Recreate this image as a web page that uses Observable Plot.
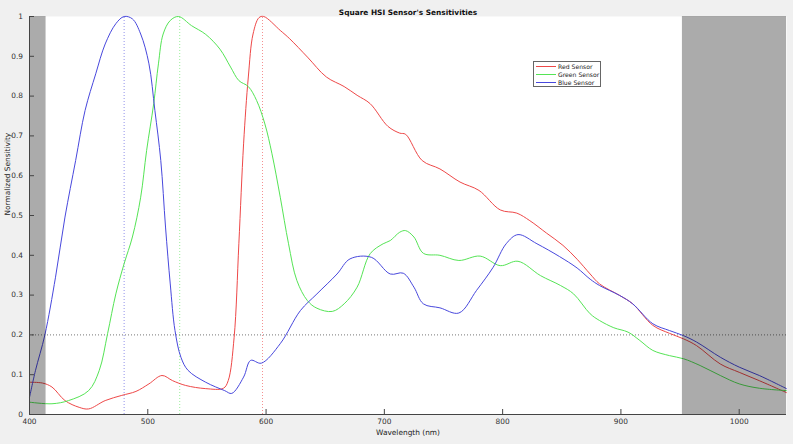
<!DOCTYPE html>
<html>
<head>
<meta charset="utf-8">
<script src="https://cdn.jsdelivr.net/npm/d3@7"></script>
<script src="https://cdn.jsdelivr.net/npm/@observablehq/plot@0.6"></script>
<style>
  html, body { margin: 0; padding: 0; background: #f0f0f0; }
  #wrap { position: relative; width: 793px; height: 444px; overflow: hidden; }
  .legend { position: absolute; left: 533px; top: 61px; width: 68px; height: 26px; background: #fff;
    border: 1px solid #666; font-family: "DejaVu Sans", sans-serif; font-size: 6.1px; color: #222; box-sizing: border-box; padding-top: 1px; }
  .legend .row { display: flex; align-items: center; height: 7.8px; white-space: nowrap; }
  .legend .sw { flex: 0 0 20px; width: 20px; height: 0; border-top: 1px solid; margin-left: 2px; margin-right: 2px; }
</style>
</head>
<body>
<div id="wrap"></div>
<script>
const titleText = "Square HSI Sensor's Sensitivities";
const xLabel = "Wavelength (nm)";
const yLabel = "Normalized Sensitivity";
const seriesNames = ["Red Sensor", "Green Sensor", "Blue Sensor"];
const seriesColors = ["#ee4848", "#55e455", "#4848dd"];

const xTicks = [400, 500, 600, 700, 800, 900, 1000];
const yTicks = [0, 0.1, 0.2, 0.3, 0.4, 0.5, 0.6, 0.7, 0.8, 0.9, 1];
const yTickLabels = ["0", "0.1", "0.2", "0.3", "0.4", "0.5", "0.6", "0.7", "0.8", "0.9", "1"];

const redWl = [400,411,419,430,442,450,464,478,490,501,512,521,532,549,564,568,573,577,581,585,589,594,598,612,620,635,651,666,677,688,703,713,718,732,747,764,780,798,812,823,837,851,863,874,882,899,910,927,941,953,964,984,1000,1017,1040];
const redVal = [0.081,0.079,0.069,0.035,0.018,0.014,0.035,0.048,0.058,0.077,0.098,0.085,0.073,0.065,0.066,0.085,0.194,0.429,0.68,0.848,0.956,0.997,1.0,0.965,0.944,0.898,0.848,0.824,0.802,0.781,0.724,0.707,0.704,0.638,0.617,0.584,0.563,0.514,0.506,0.487,0.456,0.425,0.39,0.353,0.328,0.299,0.278,0.224,0.204,0.19,0.173,0.127,0.106,0.085,0.055];

const greenWl = [400,419,433,450,459,466,473,480,487,494,499,505,509,513,519,526,537,549,561,570,577,585,592,599,605,612,619,626,635,643,656,666,677,688,699,705,713,718,725,733,747,763,781,798,813,832,849,860,874,882,894,906,916,927,941,953,967,984,1000,1017,1040];
const greenVal = [0.031,0.027,0.035,0.06,0.111,0.203,0.303,0.379,0.446,0.546,0.663,0.781,0.881,0.956,0.99,1.0,0.977,0.955,0.918,0.873,0.839,0.824,0.789,0.73,0.655,0.546,0.429,0.337,0.286,0.267,0.259,0.278,0.32,0.404,0.429,0.437,0.458,0.462,0.446,0.405,0.4,0.387,0.398,0.374,0.385,0.349,0.324,0.303,0.253,0.236,0.218,0.207,0.186,0.161,0.148,0.14,0.123,0.098,0.077,0.066,0.06];

const blueWl = [400,405,413,422,430,439,447,456,464,473,480,487,494,501,506,511,515,519,523,528,534,549,565,571,581,587,596,612,629,643,660,671,689,705,716,725,733,747,763,778,792,803,813,829,848,863,874,882,899,910,927,941,953,964,984,1000,1017,1040];
const blueVal = [0.043,0.11,0.2,0.345,0.496,0.638,0.764,0.856,0.931,0.982,1.0,0.994,0.956,0.881,0.764,0.638,0.471,0.328,0.211,0.144,0.111,0.081,0.06,0.053,0.094,0.136,0.129,0.178,0.261,0.303,0.353,0.391,0.395,0.353,0.355,0.32,0.278,0.268,0.255,0.312,0.37,0.429,0.452,0.429,0.397,0.368,0.34,0.324,0.299,0.278,0.228,0.211,0.198,0.182,0.144,0.119,0.098,0.065];

const peakWl = [597, 527, 480];          // red, green, blue peaks
const refLevel = [0.2];
const bandStart = [400, 952];
const bandEnd = [414, 1040];

const toRows = (wl, v) => wl.map((w, i) => ({wl: w, v: v[i]}));
const red = toRows(redWl, redVal);
const green = toRows(greenWl, greenVal);
const blue = toRows(blueWl, blueVal);
const peaks = peakWl.map((w, i) => ({wl: w, c: seriesColors[i]}));
const bands = bandStart.map((s, i) => ({x1: s, x2: bandEnd[i]}));

const font = "DejaVu Sans, sans-serif";
const lineOpts = {x: "wl", y: "v", curve: "catmull-rom", strokeWidth: 1};

const chart = Plot.plot({
  width: 793, height: 444,
  marginLeft: 29, marginRight: 7, marginTop: 16, marginBottom: 30,
  x: {domain: [400, 1040], label: null},
  y: {domain: [0, 1], label: null},
  style: {background: "transparent", fontFamily: font, fontSize: "7.4px", color: "#333", overflow: "visible"},
  marks: [
    Plot.frame({fill: "white", stroke: "none"}),
    Plot.ruleY(refLevel, {stroke: "#777", strokeDasharray: "1,2"}),
    Plot.ruleX(peaks, {x: "wl", y1: 0, y2: 1, stroke: "c", strokeDasharray: "1,2", strokeOpacity: 0.6}),
    Plot.line(red, {...lineOpts, stroke: seriesColors[0]}),
    Plot.line(green, {...lineOpts, stroke: seriesColors[1]}),
    Plot.line(blue, {...lineOpts, stroke: seriesColors[2]}),
    Plot.rect(bands, {x1: "x1", x2: "x2", y1: 0, y2: 1, fill: "black", fillOpacity: 0.33}),
    Plot.axisX({ticks: xTicks, tickSize: -5, text: null, stroke: "#444", label: null}),
    Plot.axisX({ticks: xTicks, tickSize: 0, tickPadding: 4.5, tickFormat: d => String(d), label: null}),
    Plot.axisY({ticks: yTicks, tickSize: -5, text: null, stroke: "#444", label: null}),
    Plot.axisY({ticks: yTicks, tickSize: 0, tickPadding: 6.5, tickFormat: (d, i) => yTickLabels[i], label: null}),
    Plot.ruleX([400], {stroke: "#444"}),
    Plot.ruleY([0], {stroke: "#444"}),
    Plot.text([titleText], {frameAnchor: "top", dy: -7, fontWeight: "bold", fontSize: 7.4, fill: "#111"}),
    Plot.text([xLabel], {frameAnchor: "bottom", dy: 20, fontSize: 7.4, fill: "#222"}),
    Plot.text([yLabel], {frameAnchor: "left", dx: -21.5, rotate: -90, fontSize: 7.4, fill: "#222"})
  ]
});

const wrap = document.getElementById("wrap");
wrap.appendChild(chart);

const legend = document.createElement("div");
legend.className = "legend";
seriesNames.forEach((n, i) => {
  const row = document.createElement("div");
  row.className = "row";
  const sw = document.createElement("span");
  sw.className = "sw";
  sw.style.borderTopColor = seriesColors[i];
  const t = document.createElement("span");
  t.textContent = n;
  row.appendChild(sw);
  row.appendChild(t);
  legend.appendChild(row);
});
wrap.appendChild(legend);
</script>
</body>
</html>
